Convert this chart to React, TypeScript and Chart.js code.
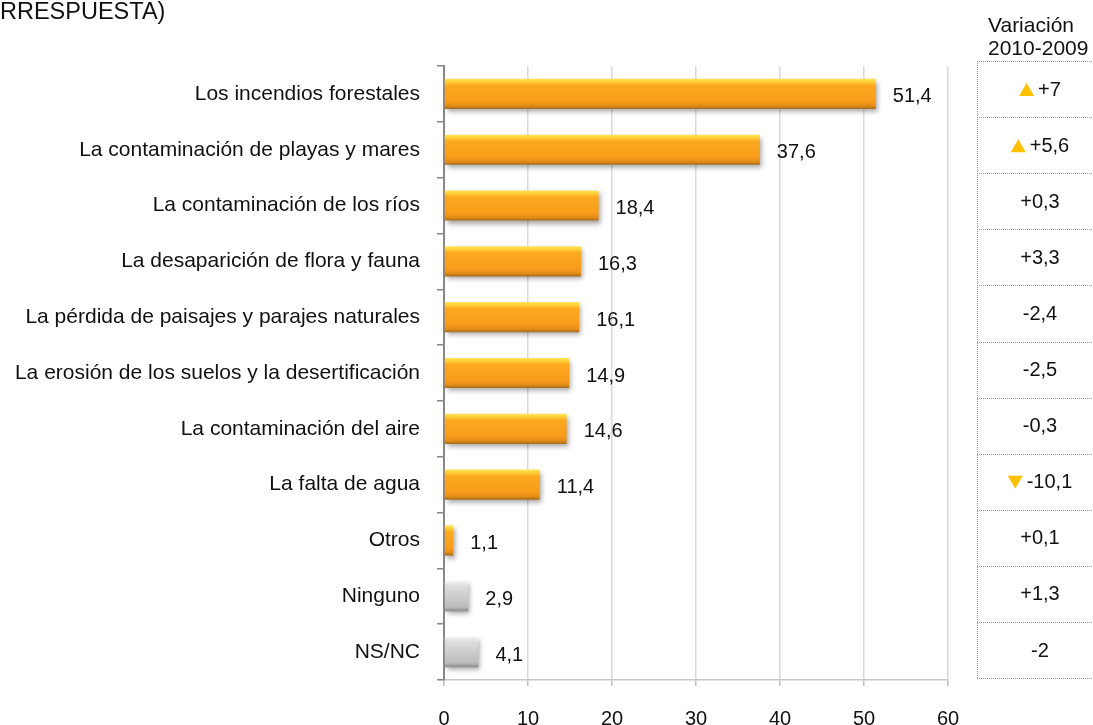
import React, { useEffect, useRef } from "react";
import { Chart, registerables } from "chart.js";

Chart.register(...registerables);

const TITLE = "RRESPUESTA)";
const categories = [
  "Los incendios forestales",
  "La contaminación de playas y mares",
  "La contaminación de los ríos",
  "La desaparición de flora y fauna",
  "La pérdida de paisajes y parajes naturales",
  "La erosión de los suelos y la desertificación",
  "La contaminación del aire",
  "La falta de agua",
  "Otros",
  "Ninguno",
  "NS/NC",
];
const values = [51.4, 37.6, 18.4, 16.3, 16.1, 14.9, 14.6, 11.4, 1.1, 2.9, 4.1];
const valueLabels = ["51,4", "37,6", "18,4", "16,3", "16,1", "14,9", "14,6", "11,4", "1,1", "2,9", "4,1"];
const neutralCategories = ["Ninguno", "NS/NC"];
const variationHeader = ["Variación", "2010-2009"];
const variations = ["+7", "+5,6", "+0,3", "+3,3", "-2,4", "-2,5", "-0,3", "-10,1", "+0,1", "+1,3", "-2"];
const variationMarks = ["up", "up", "", "", "", "", "", "down", "", "", ""];
const xTicks = [0, 10, 20, 30, 40, 50, 60];

const FONT = "'Liberation Sans', Arial, Helvetica, sans-serif";
const BAR_FRACTION = 0.54;

export default function App() {
  const ref = useRef<HTMLCanvasElement>(null);

  useEffect(() => {
    const canvas = ref.current;
    if (!canvas) return;

    const barFill = (ctx: any) => {
      const chart = ctx.chart;
      const ys = chart.scales && chart.scales.y;
      const idx = ctx.dataIndex;
      const neutral = idx != null && neutralCategories.includes(categories[idx]);
      const fallback = neutral ? "#c8c8c8" : "#f89a1a";
      if (!ys || idx == null) return fallback;
      const cy = ys.getPixelForValue(idx);
      const h = (ys.height / categories.length) * BAR_FRACTION;
      if (!isFinite(cy) || !isFinite(h) || h <= 0) return fallback;
      const g = chart.ctx.createLinearGradient(0, cy - h / 2, 0, cy + h / 2);
      if (neutral) {
        g.addColorStop(0, "#f4f4f4");
        g.addColorStop(0.15, "#dedede");
        g.addColorStop(0.5, "#cdcdcd");
        g.addColorStop(0.85, "#bcbcbc");
        g.addColorStop(1, "#8c8c8c");
      } else {
        g.addColorStop(0, "#ffe55c");
        g.addColorStop(0.1, "#ffcf35");
        g.addColorStop(0.22, "#fca91f");
        g.addColorStop(0.75, "#f99b1a");
        g.addColorStop(0.9, "#e28b14");
        g.addColorStop(1, "#a26c20");
      }
      return g;
    };

    const shadowPlugin = {
      id: "barShadow",
      beforeDatasetsDraw(chart: any) {
        const c = chart.ctx;
        c.save();
        c.shadowColor = "rgba(0,0,0,0.35)";
        c.shadowBlur = 5;
        c.shadowOffsetX = 2;
        c.shadowOffsetY = 3;
      },
      afterDatasetsDraw(chart: any) {
        chart.ctx.restore();
        const c = chart.ctx;
        const meta = chart.getDatasetMeta(0);
        c.save();
        c.font = `20px ${FONT}`;
        c.fillStyle = "#111";
        c.textAlign = "left";
        c.textBaseline = "middle";
        meta.data.forEach((el: any, i: number) => {
          c.fillText(valueLabels[i], el.x + 17, el.y + 3);
        });
        c.restore();
      },
    };

    const tablePlugin = {
      id: "variationTable",
      afterDraw(chart: any) {
        const c = chart.ctx;
        c.save();
        c.font = `23.5px ${FONT}`;
        c.fillStyle = "#111";
        c.textAlign = "left";
        c.textBaseline = "alphabetic";
        c.fillText(TITLE, 0, 19);
        c.font = `21px ${FONT}`;
        c.fillText(variationHeader[0], 988, 32);
        c.fillText(variationHeader[1], 988, 55);

        const left = 977;
        const right = 1093;
        const top = 61;
        const rowH = 56.1;
        const n = variations.length;
        c.strokeStyle = "#9a9a9a";
        c.lineWidth = 1;
        c.setLineDash([1, 1]);
        for (let i = 0; i <= n; i++) {
          const y = Math.round(top + i * rowH) + 0.5;
          c.beginPath();
          c.moveTo(left, y);
          c.lineTo(right, y);
          c.stroke();
        }
        c.beginPath();
        c.moveTo(left + 0.5, top);
        c.lineTo(left + 0.5, top + n * rowH);
        c.stroke();
        c.setLineDash([]);

        c.font = `20px ${FONT}`;
        c.textBaseline = "middle";
        c.textAlign = "left";
        const cx = 1040;
        for (let i = 0; i < n; i++) {
          const cy = top + i * rowH + rowH / 2 + 1;
          const txt = variations[i];
          const tw = c.measureText(txt).width;
          const mark = variationMarks[i];
          const triW = 15;
          const gap = 4;
          const total = mark ? triW + gap + tw : tw;
          let x = cx - total / 2;
          if (mark) {
            c.fillStyle = "#ffc000";
            c.beginPath();
            if (mark === "up") {
              c.moveTo(x, cy + 6);
              c.lineTo(x + triW, cy + 6);
              c.lineTo(x + triW / 2, cy - 7);
            } else {
              c.moveTo(x, cy - 7);
              c.lineTo(x + triW, cy - 7);
              c.lineTo(x + triW / 2, cy + 6);
            }
            c.closePath();
            c.fill();
            x += triW + gap;
          }
          c.fillStyle = "#111";
          c.fillText(txt, x, cy);
        }
        c.restore();
      },
    };

    const chart = new Chart(canvas, {
      type: "bar",
      data: {
        labels: categories,
        datasets: [
          {
            data: values,
            backgroundColor: barFill,
            borderWidth: 0,
            barPercentage: 0.9,
            categoryPercentage: BAR_FRACTION / 0.9,
          },
        ],
      },
      options: {
        indexAxis: "y",
        responsive: false,
        animation: false,
        events: [],
        layout: { padding: { top: 66, right: 145, left: 0, bottom: 0 } },
        plugins: {
          legend: { display: false },
          title: { display: false },
          tooltip: { enabled: false },
        },
        scales: {
          x: {
            min: 0,
            max: 60,
            afterFit: (s: any) => {
              s.height = 45;
            },
            afterBuildTicks: (s: any) => {
              s.ticks = xTicks.map((v) => ({ value: v }));
            },
            ticks: {
              font: { family: FONT, size: 20 },
              color: "#111",
              padding: 21,
              maxRotation: 0,
            },
            grid: {
              color: "#d9d9d9",
              lineWidth: 1.5,
              drawTicks: true,
              tickLength: 6,
              tickColor: "#bdbdbd",
            },
            border: { display: true, color: "#c8c8c8", width: 1.5 },
          },
          y: {
            afterFit: (s: any) => {
              s.width = 444;
            },
            ticks: {
              font: { family: FONT, size: 21 },
              color: "#111",
              padding: 17,
            },
            grid: {
              offset: true,
              drawOnChartArea: false,
              drawTicks: true,
              tickLength: 7,
              color: "#888",
              lineWidth: 1.5,
            },
            border: { display: true, color: "#888", width: 2 },
          },
        },
      },
      plugins: [shadowPlugin, tablePlugin],
    });

    return () => chart.destroy();
  }, []);

  return (
    <div style={{ position: "fixed", left: 0, top: 0, width: 1093, height: 725, background: "#fff" }}>
      <canvas ref={ref} width={1093} height={725} style={{ width: 1093, height: 725, display: "block" }} />
    </div>
  );
}
